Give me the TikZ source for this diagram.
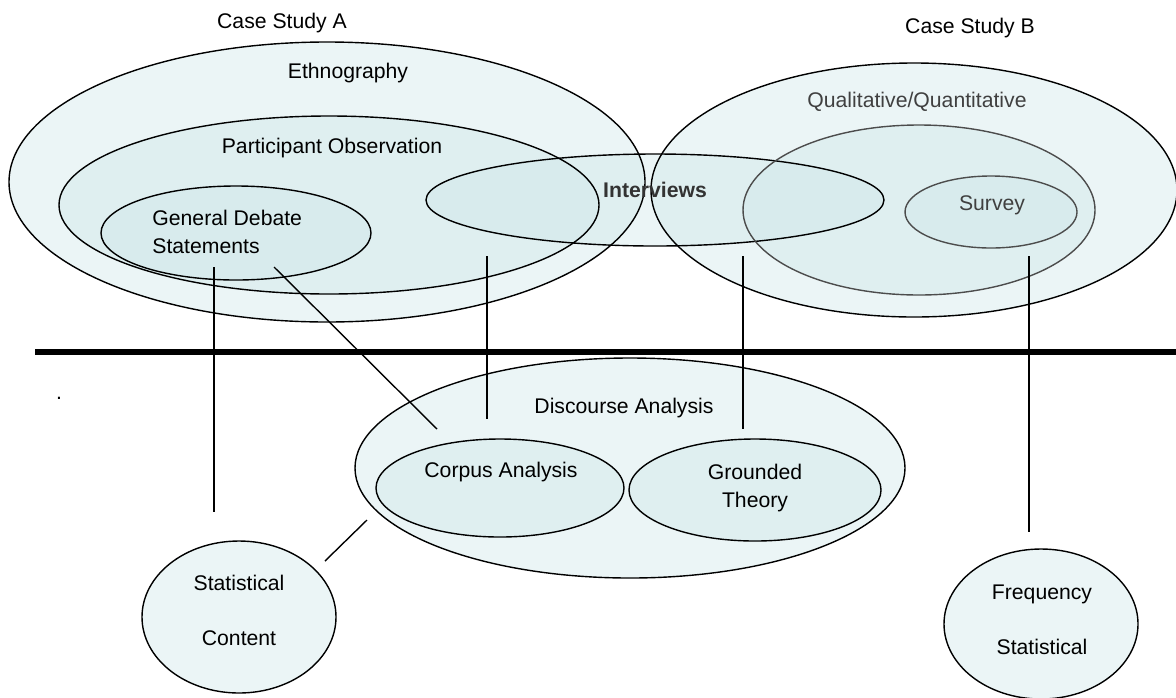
\documentclass[tikz,border=0pt]{standalone}
\usepackage{fontspec}
\setmainfont{Liberation Sans}
\usetikzlibrary{shapes.geometric}
\definecolor{MethodFill}{RGB}{205,230,232}
\definecolor{MethodText}{RGB}{64,64,64}

\begin{document}
\begin{tikzpicture}[x=0.5pt, y=-0.5pt,
    blobfill/.style={ellipse, fill=MethodFill, fill opacity=0.4,
                     inner sep=0pt, outer sep=0pt},
    blobrim/.style={ellipse, draw=#1, line width=0.7pt,
                    inner sep=0pt, outer sep=0pt},
    lbl/.style={font=\fontsize{10.6}{14}\selectfont, inner sep=1pt, align=center},
    link/.style={line width=0.7pt}]
            \path[use as bounding box] (0,0) rectangle (1176,697);

            % name / centre / half sizes / rim colour
            \def\blobs{ethno/327/182/318/140/black, partobs/329/205/270/89/black,
                debate/236/233/135/47/black, interv/655/200/229/46/black,
                caseb/914/190/263/127/black, qualquant/919/210/176/85/black!70,
                survey/991/212/86/36/black!70, discourse/630/468/275/110/black,
                corpus/500/488/124/49/black, grounded/755/490/126/51/black,
                statcont/239/617/97/76/black, freqstat/1041/624/97/75/black}

            % Light fills, overlapping
            \foreach \n/\x/\y/\w/\h/\c in \blobs {
                \node[blobfill, minimum width=\w pt, minimum height=\h pt] (\n) at (\x,\y) {};
            }
            % Outlines on top
            \foreach \n/\x/\y/\w/\h/\c in \blobs {
                \node[blobrim=\c, minimum width=\w pt, minimum height=\h pt] at (\n.center) {};
            }

            % Dividing line
            \coordinate (divL) at (35,352);
            \coordinate (divR) at (1176,352);
            \draw[line width=3pt] (divL) -- (divR);

            % Labels
            \node[lbl] (caseaT) at (282,23) {Case Study A};
            \node[lbl] (casebT) at (970,28) {Case Study B};
            \node[lbl] (ethnoT) at (348,73) {Ethnography};
            \node[lbl] (partobsT) at (332,148) {Participant Observation};
            \node[lbl, align=left, anchor=west] (debateT) at (150,232) {General Debate\\Statements};
            \node[lbl, text=black!80, font=\fontsize{10.6}{14}\selectfont\bfseries] (intervT) at (655,190) {Interviews};
            \node[lbl, text=MethodText] (qualquantT) at (917,102) {Qualitative/Quantitative};
            \node[lbl, text=MethodText] (surveyT) at (992,205) {Survey};
            \node[lbl] (discourseT) at (624,408) {Discourse Analysis};
            \node[lbl] (corpusT) at (501,472) {Corpus Analysis};
            \node[lbl] (groundedT) at (755,488) {Grounded\\Theory};
            \node[lbl] (statcontT) at (239,610) {Statistical\\[13.5pt]Content};
            \node[lbl] (freqstatT) at (1042,620) {Frequency\\[13.5pt]Statistical};
            \node[lbl] (dotT) at (59,398) {.};

            % Connections across the line
            \coordinate (l1a) at (214,267);  \coordinate (l1b) at (214,512);
            \coordinate (l2a) at (274,267);  \coordinate (l2b) at (437,429);
            \coordinate (l3a) at (487,256);  \coordinate (l3b) at (487,419);
            \coordinate (l4a) at (743,256);  \coordinate (l4b) at (743,429);
            \coordinate (l5a) at (1029,256); \coordinate (l5b) at (1029,532);
            \coordinate (l6a) at (367,520);  \coordinate (l6b) at (325,561);
            \foreach \i in {1,...,6} {
                \draw[link] (l\i a) -- (l\i b);
            }
\end{tikzpicture}
\end{document}
